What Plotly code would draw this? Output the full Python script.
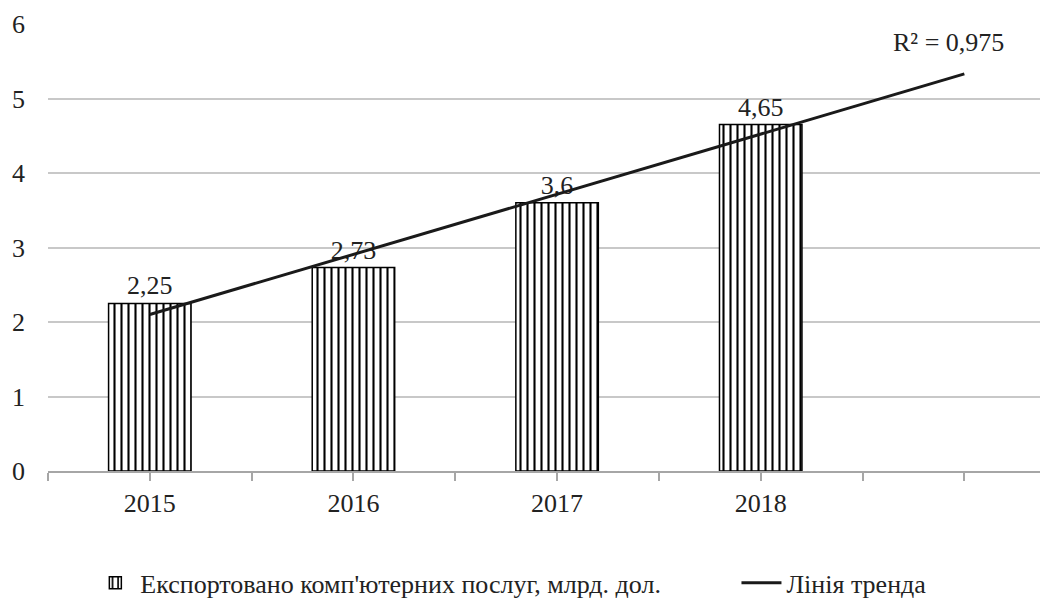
import plotly.graph_objects as go

# Дані
years = ["2015", "2016", "2017", "2018"]
year_pos = [1, 2, 3, 4]
export_values = [2.25, 2.73, 3.6, 4.65]

# Лінія тренда (прогноз на один період вперед)
trend_x = [1, 5]
trend_y = [2.10, 5.33]
r2_text = "R² = 0,975"

FONT = "Liberation Serif, Times New Roman, serif"
FS = 26
TXT = "#222"


def serif(size=FS):
    return dict(family=FONT, size=size, color=TXT)


fig = go.Figure()

fig.add_trace(go.Bar(
    x=year_pos,
    y=export_values,
    width=0.405,
    name="Експортовано комп'ютерних послуг, млрд. дол.",
    text=[f"{v:g}".replace(".", ",") for v in export_values],
    textposition="outside",
    textfont=serif(),
    cliponaxis=False,
    showlegend=True,
    legend="legend",
    marker=dict(
        color="white",
        line=dict(color="black", width=1.5),
        pattern=dict(shape="|", fgcolor="black", bgcolor="white",
                     size=7, solidity=0.3, fillmode="replace"),
    ),
))

fig.add_trace(go.Scatter(
    x=trend_x,
    y=trend_y,
    mode="lines",
    name="Лінія тренда",
    showlegend=True,
    legend="legend2",
    line=dict(color="#1a1a1a", width=3),
))

fig.add_annotation(
    x=4.92, y=5.75, xref="x", yref="y",
    text=r2_text, showarrow=False,
    font=serif(),
)

tick_vals = [0.5, 1, 1.5, 2, 2.5, 3, 3.5, 4, 4.5, 5]
tick_text = ["", years[0], "", years[1], "", years[2], "", years[3], "", ""]

# сторінка має відступ 8px, тому поля зменшено
fig.update_layout(
    width=1048,
    height=599,
    margin=dict(l=40, r=0, t=16, b=136),
    plot_bgcolor="white",
    paper_bgcolor="white",
    font=serif(),
    showlegend=True,
    xaxis=dict(
        range=[0.5, 5.45],
        tickvals=tick_vals,
        ticktext=tick_text,
        ticks="outside",
        ticklen=8,
        tickcolor="#a6a6a6",
        tickwidth=1.5,
        showline=True,
        linecolor="#a6a6a6",
        linewidth=1.5,
        showgrid=False,
        zeroline=False,
        automargin=False,
        tickfont=serif(),
    ),
    yaxis=dict(
        range=[0, 6],
        dtick=1,
        showgrid=True,
        gridcolor="#c8c8c8",
        gridwidth=1.5,
        zeroline=False,
        showline=False,
        ticks="",
        ticklabelstandoff=22,
        automargin=False,
        tickfont=serif(),
    ),
    legend=dict(
        orientation="h",
        x=0.042, xanchor="left",
        y=-0.25, yanchor="middle",
        font=serif(),
        itemwidth=40,
    ),
    legend2=dict(
        orientation="h",
        x=0.683, xanchor="left",
        y=-0.25, yanchor="middle",
        font=serif(),
        itemwidth=40,
    ),
)

fig.write_html("out.html")
